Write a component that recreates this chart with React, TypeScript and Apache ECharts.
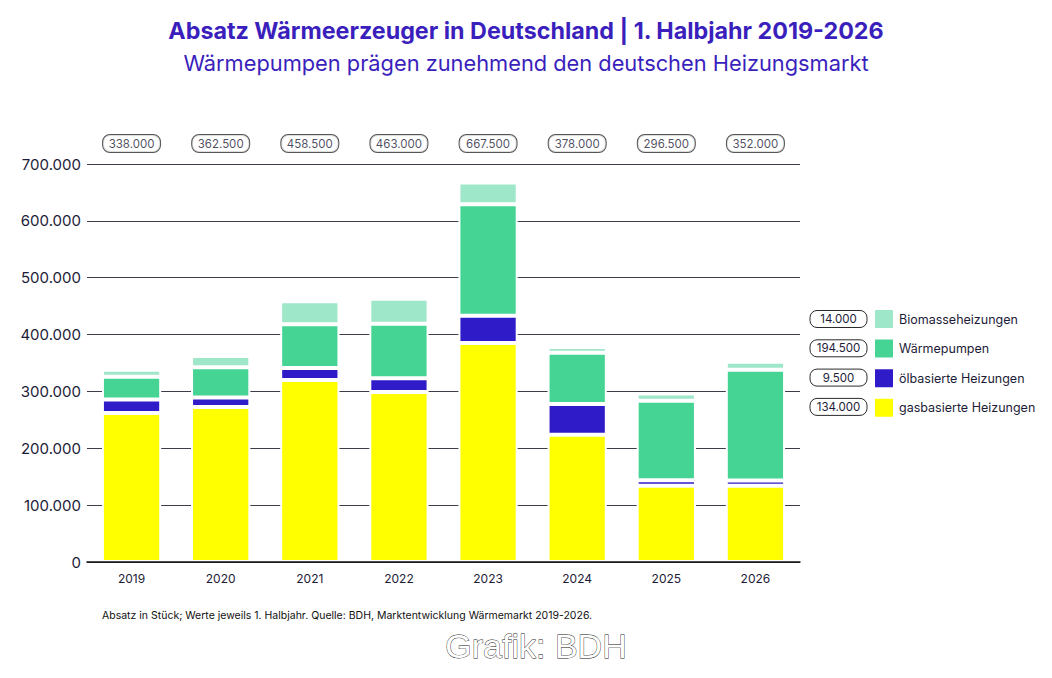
import React, { useEffect, useRef } from "react";
import * as echarts from "echarts";

const years = ["2019", "2020", "2021", "2022", "2023", "2024", "2025", "2026"];
const gas = [262000, 272500, 320000, 299000, 385000, 224000, 134000, 134000];
const oil = [24000, 17000, 21000, 24000, 48000, 54000, 10000, 9500];
const heatPumps = [40000, 53000, 77000, 96000, 196000, 90000, 139500, 194500];
const biomass = [12000, 20000, 40500, 44000, 38500, 10000, 13000, 14000];
const totals = [338000, 362500, 458500, 463000, 667500, 378000, 296500, 352000];
const yTicks = [0, 100000, 200000, 300000, 400000, 500000, 600000, 700000];

const seriesNames = ["gasbasierte Heizungen", "ölbasierte Heizungen", "Wärmepumpen", "Biomasseheizungen"];
const legendOrder = ["Biomasseheizungen", "Wärmepumpen", "ölbasierte Heizungen", "gasbasierte Heizungen"];
const legendValues = [biomass[7], heatPumps[7], oil[7], gas[7]];

const COLORS = {
  gas: "#ffff00",
  oil: "#2f1cc8",
  hp: "#46d495",
  bio: "#9ee7c8",
  title: "#3a1fbd",
  text: "#1d1c38",
};

const fmt = (v: number) => {
  const s = String(Math.round(v));
  return s.replace(/\B(?=(\d{3})+(?!\d))/g, ".");
};

const FONT = "Inter, 'Noto Sans', sans-serif";

export default function App() {
  const ref = useRef<HTMLDivElement>(null);

  useEffect(() => {
    if (!ref.current) return;
    const chart = echarts.init(ref.current, null, { renderer: "svg" });

    const barBase = {
      type: "bar",
      stack: "total",
      barCategoryGap: "33.5%",
      itemStyle: { borderColor: "#ffffff", borderWidth: 2 },
      emphasis: { disabled: true },
    };

    const legendTop = 309;
    const legendStep = 29.3;

    const graphics: any[] = [];
    legendValues.forEach((v, i) => {
      const cy = legendTop + 10 + i * legendStep;
      graphics.push({
        type: "rect",
        shape: { x: 810, y: cy - 8.5, width: 57, height: 17, r: 7 },
        style: { fill: "#ffffff", stroke: "#2a2a2a", lineWidth: 1 },
      });
      graphics.push({
        type: "text",
        x: 838.5,
        y: cy,
        style: {
          text: fmt(v),
          fill: COLORS.text,
          font: `11.5px ${FONT}`,
          align: "center",
          verticalAlign: "middle",
        },
      });
    });
    graphics.push({
      type: "text",
      x: 102,
      y: 615,
      style: {
        text: "Absatz in Stück; Werte jeweils 1. Halbjahr. Quelle: BDH, Marktentwicklung Wärmemarkt 2019-2026.",
        fill: "#111111",
        font: `10.5px ${FONT}`,
        align: "left",
        verticalAlign: "middle",
      },
    });
    graphics.push({
      type: "text",
      x: 536,
      y: 646,
      style: {
        text: "Grafik: BDH",
        fill: "#ffffff",
        stroke: "#111111",
        lineWidth: 0.8,
        font: `34px 'Liberation Sans', Arial, sans-serif`,
        align: "center",
        verticalAlign: "middle",
      },
    });

    chart.setOption({
      animation: false,
      backgroundColor: "#ffffff",
      textStyle: { fontFamily: FONT },
      title: [
        {
          text: "Absatz Wärmeerzeuger in Deutschland | 1. Halbjahr 2019-2026",
          left: "center",
          top: 19,
          padding: 0,
          textStyle: { fontSize: 23.3, fontWeight: "bold", color: COLORS.title, fontFamily: FONT },
        },
        {
          text: "Wärmepumpen prägen zunehmend den deutschen Heizungsmarkt",
          left: "center",
          top: 52,
          padding: 0,
          textStyle: { fontSize: 21.8, fontWeight: "normal", color: COLORS.title, fontFamily: FONT },
        },
      ],
      legend: {
        orient: "vertical",
        left: 873,
        top: legendTop - 1,
        padding: 0,
        itemWidth: 20,
        itemHeight: 20,
        itemGap: 7.6,
        icon: "rect",
        selectedMode: false,
        data: legendOrder,
        textStyle: { fontSize: 12.5, color: COLORS.text, fontFamily: FONT },
      },
      grid: { left: 87, top: 164, width: 713, height: 398, containLabel: false },
      xAxis: {
        type: "category",
        data: years,
        z: 10,
        axisTick: { show: false },
        axisLine: { lineStyle: { color: "#111111", width: 1.5 } },
        axisLabel: { fontSize: 12, color: COLORS.text, margin: 10 },
      },
      yAxis: {
        type: "value",
        min: 0,
        max: yTicks[yTicks.length - 1],
        interval: yTicks[1] - yTicks[0],
        axisLine: { show: false },
        axisTick: { show: false },
        axisLabel: { fontSize: 15, color: COLORS.text, margin: 6, formatter: (v: number) => fmt(v) },
        splitLine: { lineStyle: { color: "#3d3d4a", width: 1 } },
      },
      series: [
        { ...barBase, name: seriesNames[0], data: gas, itemStyle: { ...barBase.itemStyle, color: COLORS.gas } },
        { ...barBase, name: seriesNames[1], data: oil, itemStyle: { ...barBase.itemStyle, color: COLORS.oil } },
        { ...barBase, name: seriesNames[2], data: heatPumps, itemStyle: { ...barBase.itemStyle, color: COLORS.hp } },
        { ...barBase, name: seriesNames[3], data: biomass, itemStyle: { ...barBase.itemStyle, color: COLORS.bio } },
        {
          type: "scatter",
          name: "Summe",
          data: totals.map(() => 736000),
          symbolSize: 0,
          clip: false,
          silent: true,
          z: 5,
          label: {
            show: true,
            position: "inside",
            formatter: (p: any) => fmt(totals[p.dataIndex]),
            fontSize: 11.5,
            color: COLORS.text,
            fontFamily: FONT,
            backgroundColor: "#ffffff",
            borderColor: "#2a2a2a",
            borderWidth: 1,
            borderRadius: 7,
            width: 45,
            align: "center",
            padding: [3, 6, 2, 6],
          },
        },
      ],
      graphic: graphics,
    });

    return () => chart.dispose();
  }, []);

  return (
    <div
      ref={ref}
      style={{ position: "fixed", left: 0, top: 0, width: 1052, height: 678, background: "#fff" }}
    />
  );
}
